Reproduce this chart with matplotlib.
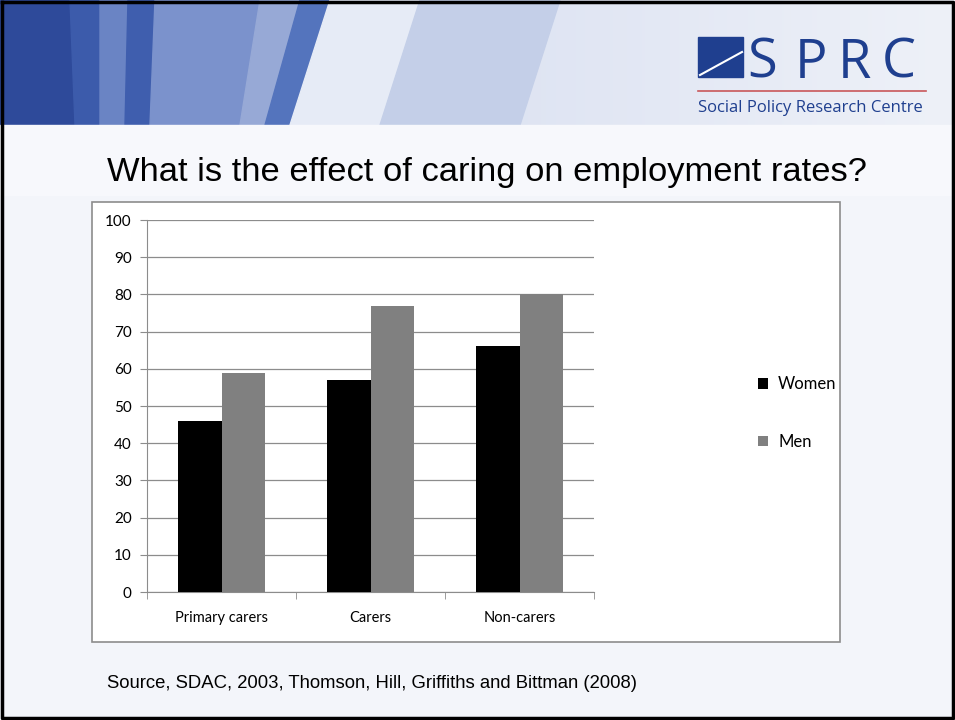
import matplotlib.pyplot as plt
from matplotlib.patches import Rectangle, Polygon
import numpy as np

categories = ['Primary carers', 'Carers', 'Non-carers']
women = [46, 57, 66]
men = [59, 77, 80]
yticks = [0, 10, 20, 30, 40, 50, 60, 70, 80, 90, 100]

W, H = 955, 720
fig = plt.figure(figsize=(9.55, 7.2), dpi=100)

# slide background, pixel coordinates
bg = fig.add_axes([0, 0, 1, 1])
bg.set_xlim(0, W)
bg.set_ylim(H, 0)
bg.axis('off')
bg.add_patch(Rectangle((0, 0), W, H, color='#f3f5fa', zorder=0))
# top banner with blue stripes
bg.add_patch(Rectangle((0, 0), W, 125, color='#c9d3ea', zorder=1))
grad = np.linspace(0, 1, 256).reshape(1, -1)
bg.imshow(grad, extent=(300, W, 125, 0), cmap=plt.cm.colors.LinearSegmentedColormap.from_list('b', ['#d7def0', '#eef1f8']),
          aspect='auto', zorder=1)
bg.add_patch(Polygon([(0, 0), (70, 0), (75, 125), (0, 125)], color='#2e4a9a', zorder=2))
bg.add_patch(Polygon([(70, 0), (100, 0), (105, 125), (75, 125)], color='#3c5bab', zorder=2))
bg.add_patch(Polygon([(100, 0), (128, 0), (125, 125), (100, 125)], color='#6a84c4', zorder=2))
bg.add_patch(Polygon([(128, 0), (155, 0), (150, 125), (125, 125)], color='#3f5eae', zorder=2))
bg.add_patch(Polygon([(155, 0), (260, 0), (240, 125), (150, 125)], color='#7b92cc', zorder=2))
bg.add_patch(Polygon([(260, 0), (300, 0), (265, 125), (240, 125)], color='#97a9d6', zorder=2))
bg.add_patch(Polygon([(300, 0), (330, 0), (290, 125), (265, 125)], color='#5474bd', zorder=2))
bg.add_patch(Polygon([(330, 0), (420, 0), (380, 125), (290, 125)], color='#e6ebf6', zorder=2))
bg.add_patch(Polygon([(420, 0), (560, 0), (520, 125), (380, 125)], color='#c4cfe8', zorder=2))
bg.add_patch(Rectangle((0, 125), W, 70, color='#f7f8fc', zorder=2))
# slide frame
bg.plot([2, W - 2, W - 2, 2, 2], [2, 2, H - 2, H - 2, 2], color='black', lw=2.5, zorder=5)

# logo
bg.add_patch(Rectangle((698, 37), 45, 40, color='#1f3f8f', zorder=3))
bg.plot([700, 742], [75, 52], color='white', lw=1.5, zorder=4)
for letter, lx in zip('SPRC', [747, 795, 838, 882]):
    bg.text(lx, 78, letter, fontsize=39, color='#1f3f8f', family='Open Sans',
            va='baseline', ha='left', zorder=4)
bg.plot([698, 926], [91, 91], color='#c9575a', lw=1.2, zorder=4)
bg.text(698, 108, 'Social Policy Research Centre', fontsize=12, color='#1f3f8f',
        family='Open Sans', va='center', ha='left', zorder=4)

# title and source
bg.text(107, 173, 'What is the effect of caring on employment rates?', fontsize=24.8,
        family='Liberation Sans', va='center', ha='left', zorder=4)
bg.text(107, 684, 'Source, SDAC, 2003, Thomson, Hill, Griffiths and Bittman (2008)',
        fontsize=13.3, family='Liberation Sans', va='center', ha='left', zorder=4)

# chart frame
bg.add_patch(Rectangle((92, 202), 748, 440, facecolor='white', edgecolor='#8c8c8c',
                       lw=1.2, zorder=3))

ax = fig.add_axes([147 / W, 1 - 592 / H, 447 / W, 372 / H])
ax.set_zorder(5)
x = np.arange(len(categories))
bw = 0.29
ax.bar(x - bw / 2, women, bw, color='black', label='Women', zorder=3)
ax.bar(x + bw / 2, men, bw, color='#808080', label='Men', zorder=3)
ax.set_xlim(-0.5, len(categories) - 0.5)
ax.set_ylim(0, 100)
ax.set_yticks(yticks)
ax.set_xticks(x)
ax.set_xticklabels(categories, family='Lato', fontsize=10.5)
for lab in ax.get_yticklabels():
    lab.set_family('Lato')
    lab.set_fontsize(11)
ax.set_xticks([-0.5, 0.5, 1.5, 2.5], minor=True)
ax.tick_params(axis='x', which='major', length=0, pad=14)
ax.tick_params(axis='x', which='minor', length=5, color='#8c8c8c', direction='out')
ax.tick_params(axis='y', length=5, color='#8c8c8c', pad=6)
ax.grid(axis='y', color='#8c8c8c', lw=0.9, zorder=0)
for s in ['top', 'right']:
    ax.spines[s].set_visible(False)
ax.spines['left'].set_color('#8c8c8c')
ax.spines['bottom'].set_color('#8c8c8c')
ax.set_facecolor('white')

ax.legend(loc='center left', bbox_to_anchor=(743 / W, 1 - 413 / H),
          bbox_transform=fig.transFigure, frameon=False, handlelength=0.6,
          handleheight=0.6, handletextpad=0.6, labelspacing=2.5,
          prop={'family': 'Lato', 'size': 12})

fig.savefig('out.png', dpi=100)
